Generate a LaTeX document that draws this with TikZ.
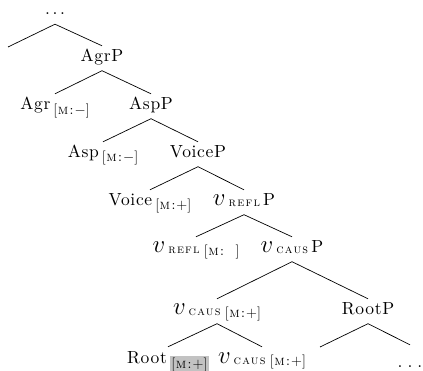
\documentclass[tikz,border=0pt]{standalone}
\usepackage{fontspec}
\setmainfont{lmroman10-regular.otf}[
  LetterSpace=4,
  SmallCapsFont=lmromancaps10-regular.otf,
  SmallCapsFeatures={LetterSpace=10}]

% feature bundle [M:value]
\newcommand\featm[1]{[\textsc{m}:\kern1pt#1]}
% lowered subscript material, set off from what precedes it
\newcommand\lowsub[2]{\kern3pt\raisebox{-#1}{\fontsize{14}{15}\selectfont #2}}
% large italic v and its small-caps index
\newcommand\bigv{{\fontsize{28}{30}\selectfont$v$}}
\newcommand\scsub[1]{\kern3pt\raisebox{-1pt}{\fontsize{12.5}{13}\selectfont\textsc{#1}}}
% spaced ellipsis
\newcommand\spdots[1]{.\kern#1.\kern#1.}

\begin{document}
\begin{tikzpicture}[x=1pt,y=-1pt,
  tn/.style={anchor=base, inner sep=0pt, text height=16pt, text depth=8.5pt,
             font=\fontsize{17.5}{20}\selectfont},
  edge/.style={line width=0.7pt}]
\useasboundingbox (0,0) rectangle (423,371);

% nodes, one row per level
\node[tn, text depth=9.5pt] (top) at (55,14.5) {\spdots{2.6pt}};
\coordinate (specl) at (8,47);
\node[tn] (agrp) at (102,62) {AgrP};
\node[tn] (agr) at (55,110) {Agr\lowsub{5pt}{\featm{$-$}}};
\node[tn] (aspp) at (151,110) {AspP};
\node[tn] (asp) at (103,158) {Asp\lowsub{4pt}{\featm{$-$}}};
\node[tn] (voicep) at (198,158) {VoiceP};
\node[tn] (voice) at (150,206) {Voice\lowsub{4pt}{\featm{$+$}}};
\node[tn] (vreflp) at (244,206) {\bigv\scsub{refl}\kern2pt P};
\node[tn] (vrefl) at (196,253) {\bigv\scsub{refl}\lowsub{3pt}{\featm{\ \ }}};
\node[tn] (vcausp) at (292,253) {\bigv\scsub{caus}\kern2pt P};
\node[tn] (vcaus) at (217,315) {\bigv\scsub{caus}\lowsub{2pt}{\featm{$+$}}};
\node[tn] (rootp) at (368,315) {RootP};
\node[tn] (root) at (168,363)
  {Root\lowsub{5pt}{\setlength\fboxsep{1.5pt}\colorbox{black!24}{\featm{$+$}}}};
\node[tn] (vcausb) at (262,363) {\bigv\scsub{caus}\lowsub{2pt}{\featm{$+$}}};
\coordinate (rootl) at (320,347);
\node[tn, text height=22pt] (rdots) at (410,367) {\spdots{5pt}};

% branches
\draw[edge] (top.south) -- (specl);
\draw[edge] (top.south) -- (agrp.north);
\draw[edge] (agrp.south) -- (agr.north);
\draw[edge] (agrp.south) -- (aspp.north);
\draw[edge] (aspp.south) -- (asp.north);
\draw[edge] (aspp.south) -- (voicep.north);
\draw[edge] (voicep.south) -- (voice.north);
\draw[edge] (voicep.south) -- (vreflp.north);
\draw[edge] (vreflp.south) -- (vrefl.north);
\draw[edge] (vreflp.south) -- (vcausp.north);
\draw[edge] (vcausp.south) -- (vcaus.north);
\draw[edge] (vcausp.south) -- (rootp.north);
\draw[edge] (vcaus.south) -- (root.north);
\draw[edge] (vcaus.south) -- (vcausb.north);
\draw[edge] (rootp.south) -- (rootl);
\draw[edge] (rootp.south) -- (rdots.north);
\end{tikzpicture}
\end{document}
